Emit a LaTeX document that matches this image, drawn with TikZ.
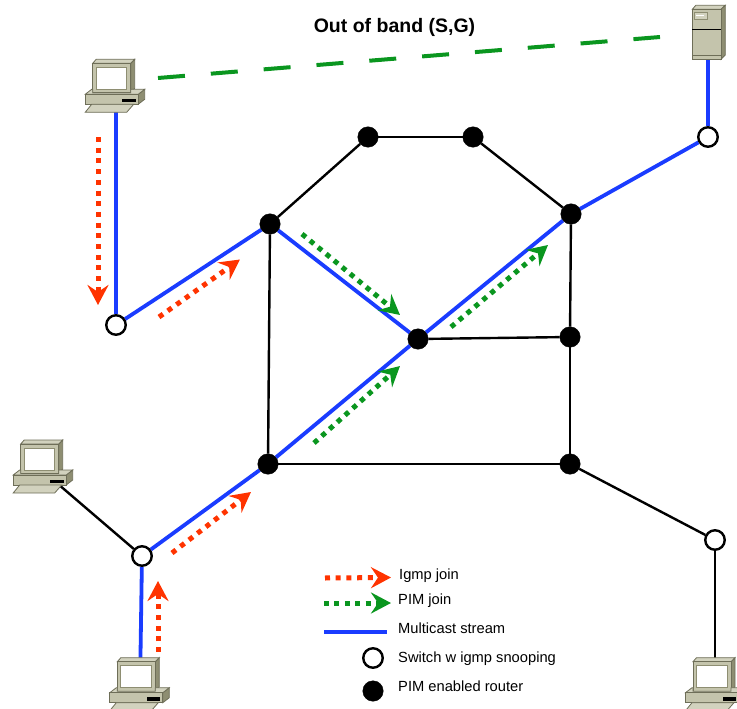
\documentclass[tikz,border=0pt]{standalone}
\usepackage{fontspec}
\setmainfont{Liberation Sans}
\usepackage{xcolor}
\definecolor{mcast}{HTML}{1A3CFF}
\definecolor{igmpred}{HTML}{FF3300}
\definecolor{pimgreen}{HTML}{0A961F}
\definecolor{boxface}{HTML}{C4C4AC}
\definecolor{boxlite}{HTML}{D2D2BE}
\definecolor{boxside}{HTML}{8E8E72}
\definecolor{boxedge}{HTML}{6E6E58}
\usetikzlibrary{arrows.meta,backgrounds}

\tikzset{
  router/.style={circle,fill=black,draw=black,inner sep=0pt,minimum size=20.5pt},
  switch/.style={circle,fill=white,draw=black,line width=2.4pt,inner sep=0pt,minimum size=19.5pt},
  wire/.style={black,line width=2.4pt},
  stream/.style={mcast,line width=3.8pt},
  igmpjoin/.style={igmpred,line width=5pt,dash pattern=on 5pt off 5.7pt,-{Stealth[length=20pt,width=21pt,inset=7pt]}},
  pimjoin/.style={pimgreen,line width=5pt,dash pattern=on 5pt off 5.4pt,-{Stealth[length=20pt,width=21pt,inset=7pt]}},
  legendtext/.style={anchor=west,inner sep=0pt,text height=10.5pt,text depth=3pt,font=\fontsize{14.7}{17}\selectfont},
  boxline/.style={draw=boxedge,line width=0.8pt},
  computer/.pic={
    % monitor
    \path[boxline,fill=boxside] (38,0) -- (42,-4) -- (42,25) -- (38,29.5) -- cycle;
    \path[boxline,fill=boxlite] (0,0) -- (3.5,-4) -- (42,-4) -- (38,0) -- cycle;
    \path[boxline,fill=boxface] (0,0) rectangle (38,29.5);
    \path[draw=boxside,line width=0.8pt,fill=white] (3.5,4) rectangle (34,26);
    % base
    \path[boxline,fill=boxside] (45.5,31) -- (52,26) -- (52,36) -- (45.5,41) -- cycle;
    \path[boxline,fill=boxlite] (-7.5,31) -- (-1,26) -- (0,26) -- (0,29.5) -- (38,29.5) -- (38,26) -- (52,26) -- (45.5,31) -- cycle;
    \path[boxline,fill=boxface] (-7.5,31) rectangle (45.5,41);
    \fill[black] (29.5,35.5) rectangle (43,39);
    % keyboard
    \path[boxline,fill=boxlite] (-7.5,49) -- (-1,41) -- (41,41) -- (34,49) -- cycle;
  },
  server/.pic={
    \path[boxline,fill=boxlite] (0,0) -- (3.5,-4) -- (33,-4) -- (28.7,0) -- cycle;
    \path[boxline,fill=boxside] (28.7,0) -- (33,-4) -- (33,45.7) -- (28.7,50) -- cycle;
    \path[boxline,fill=boxface] (0,0) rectangle (28.7,50);
    \draw[black,line width=0.9pt] (0,20) -- (28.7,20);
    \draw[boxedge,line width=0.6pt] (0,46.5) -- (28.7,46.5);
    \path[draw=boxside,line width=0.4pt,fill=boxlite] (1.7,3) rectangle (15,10);
    \draw[white,line width=0.6pt] (4,6.5) -- (12,6.5);
  },
}

\begin{document}
\begin{tikzpicture}[x=1pt,y=-1pt]
  \useasboundingbox (0,0) rectangle (737,709);
  \clip (0,0) rectangle (737,709);

  \node[font=\fontsize{19.5}{22}\selectfont\bfseries] (title) at (394.5,27) {Out of band (S,G)};

  % routers
  \node[router] (r1) at (270,224) {};
  \node[router] (r2) at (368,137) {};
  \node[router] (r3) at (473,137) {};
  \node[router] (r4) at (571,214) {};
  \node[router] (r5) at (570,337) {};
  \node[router] (r6) at (418,339) {};
  \node[router] (r7) at (268,464) {};
  \node[router] (r8) at (570,464) {};

  % switches
  \node[switch] (s1) at (116,325) {};
  \node[switch] (s2) at (708,137) {};
  \node[switch] (s3) at (142,556) {};
  \node[switch] (s4) at (715,540) {};

  % hosts, the lines run under them
  \coordinate (pc1c) at (116,90);
  \coordinate (pc2c) at (44,472);
  \coordinate (pc3c) at (140,688);
  \coordinate (pc4c) at (715,688);
  \coordinate (srvc) at (708,34);
  \pic (pc1) at (92.7,63.3) {computer};
  \pic (pc2) at (20.7,444) {computer};
  \pic (pc3) at (117.3,661.7) {computer};
  \pic (pc4) at (693,661.7) {computer};
  \pic (srv) at (692.3,9.3) {server};

  \begin{scope}[on background layer]
  \draw[wire] (r1) -- (r2);
  \draw[wire] (r2) -- (r3);
  \draw[wire] (r3) -- (r4);
  \draw[wire] (r4) -- (r5);
  \draw[wire] (r5) -- (r8);
  \draw[wire] (r1) -- (r7);
  \draw[wire] (r7) -- (r8);
  \draw[wire] (r6) -- (r5);
  \draw[wire] (r8) -- (s4);
  \draw[wire] (s4) -- (pc4c);
  \draw[wire] (s3) -- (pc2c);

  \draw[stream] (pc1c) -- (s1);
  \draw[stream] (s1) -- (r1);
  \draw[stream] (r1) -- (r6);
  \draw[stream] (s3) -- (r7);
  \draw[stream] (r7) -- (r6);
  \draw[stream] (r6) -- (r4);
  \draw[stream] (r4) -- (s2);
  \draw[stream] (s2) -- (srvc);
  \draw[stream] (s3) -- (pc3c);
  \end{scope}

  % out of band
  \coordinate (oob1) at (158,78);
  \coordinate (oob2) at (660,37);
  \draw[pimgreen,line width=4pt,dash pattern=on 27pt off 26pt] (oob1) -- (oob2);

  % joins
  \coordinate (ig1a) at (98,137);
  \coordinate (ig1b) at (98,305);
  \coordinate (ig2a) at (159,317);
  \coordinate (ig2b) at (240,259.5);
  \coordinate (ig3a) at (172,553);
  \coordinate (ig3b) at (251,492);
  \coordinate (ig4a) at (158,652);
  \coordinate (ig4b) at (158,581);
  \draw[igmpjoin] (ig1a) -- (ig1b);
  \draw[igmpjoin] (ig2a) -- (ig2b);
  \draw[igmpjoin] (ig3a) -- (ig3b);
  \draw[igmpjoin] (ig4a) -- (ig4b);

  \coordinate (pj1a) at (302,234);
  \coordinate (pj1b) at (400,315);
  \coordinate (pj2a) at (314,443);
  \coordinate (pj2b) at (400,366);
  \coordinate (pj3a) at (451,327);
  \coordinate (pj3b) at (548,245);
  \draw[pimjoin] (pj1a) -- (pj1b);
  \draw[pimjoin] (pj2a) -- (pj2b);
  \draw[pimjoin] (pj3a) -- (pj3b);

  % legend
  \coordinate (la1) at (325,578);
  \coordinate (lb1) at (391,577.5);
  \coordinate (la2) at (324,603);
  \coordinate (lb2) at (391,603);
  \coordinate (la3) at (324,632);
  \coordinate (lb3) at (387,632);
  \draw[igmpjoin] (la1) -- (lb1);
  \draw[pimjoin] (la2) -- (lb2);
  \draw[stream] (la3) -- (lb3);
  \node[switch] (lsw) at (373,658) {};
  \node[router] (lrt) at (373,691) {};
  \node[legendtext] (t1) at (399,575.5) {Igmp join};
  \node[legendtext] (t2) at (398,600.3) {PIM join};
  \node[legendtext] (t3) at (398,629.5) {Multicast stream};
  \node[legendtext] (t4) at (398,658.5) {Switch w igmp snooping};
  \node[legendtext] (t5) at (398,687.3) {PIM enabled router};
\end{tikzpicture}
\end{document}
